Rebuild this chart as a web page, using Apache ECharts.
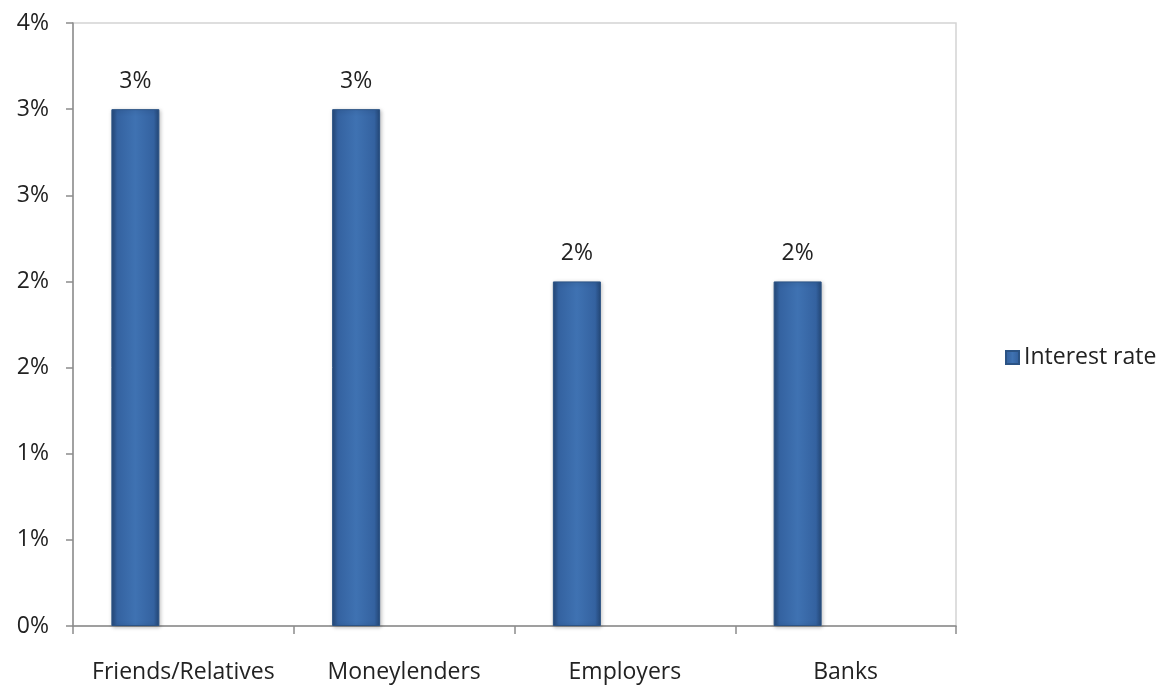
<!DOCTYPE html>
<html>
<head>
<meta charset="utf-8">
<script src="https://cdn.jsdelivr.net/npm/echarts@6/dist/echarts.min.js"></script>
<style>html,body{margin:0;padding:0;background:#fff}#c{width:1165px;height:686px}</style>
</head>
<body>
<div id="c"></div>
<script>
var categories = ['Friends/Relatives', 'Moneylenders', 'Employers', 'Banks'];
var interestRate = [3, 3, 2, 2];
var seriesName = 'Interest rate';
var yMin = 0, yMax = 3.5, yStep = 0.5;

var FONT = 'Open Sans';
var FS = 23;
var chart = echarts.init(document.getElementById('c'));
var barColor = new echarts.graphic.LinearGradient(0, 0, 1, 0, [
  {offset: 0, color: '#244878'},
  {offset: 0.12, color: '#3462a0'},
  {offset: 0.5, color: '#3f72b2'},
  {offset: 0.88, color: '#3462a0'},
  {offset: 1, color: '#244878'}
]);
var empty = categories.map(function(){return null;});
chart.setOption({
  animation: false,
  grid: {left: 73, right: 209, top: 23, bottom: 60, show: true, borderColor: '#d4d4d4', borderWidth: 1.5},
  legend: {
    data: [seriesName], orient: 'vertical', left: 1000, top: 341,
    itemWidth: 13, itemHeight: 13, itemGap: 6,
    textStyle: {fontFamily: FONT, fontSize: FS, color: '#222'},
    icon: 'rect'
  },
  xAxis: {
    type: 'category', data: categories, boundaryGap: true,
    axisLine: {lineStyle: {color: '#8c8c8c', width: 1.5}},
    axisTick: {show: true, interval: 0, length: 8, lineStyle: {color: '#8c8c8c', width: 1.5}},
    axisLabel: {interval: 0, fontFamily: FONT, fontSize: FS, color: '#222', margin: 35}
  },
  yAxis: {
    type: 'value', min: yMin, max: yMax, interval: yStep,
    splitLine: {show: false},
    axisLine: {show: true, lineStyle: {color: '#8c8c8c', width: 1.5}},
    axisTick: {show: true, length: 7, lineStyle: {color: '#8c8c8c', width: 1.5}},
    axisLabel: {fontFamily: FONT, fontSize: FS, color: '#222', margin: 24,
      formatter: function(v){ return Math.round(v) + '%'; }}
  },
  series: [
    {
      name: seriesName, type: 'bar', data: interestRate, barWidth: 48, barGap: '0%',
      itemStyle: {color: barColor, borderColor: '#2b5384', borderWidth: 1,
        shadowColor: 'rgba(0,0,0,0.25)', shadowBlur: 4, shadowOffsetX: 1, shadowOffsetY: 1},
      label: {show: true, position: 'top', distance: 16, fontFamily: FONT, fontSize: FS, color: '#222',
        formatter: function(p){ return Math.round(p.value) + '%'; }}
    },
    {name: '_a', type: 'bar', data: empty, barWidth: 48, barGap: '0%'},
    {name: '_b', type: 'bar', data: empty, barWidth: 48, barGap: '0%'}
  ]
});
</script>
</body>
</html>
